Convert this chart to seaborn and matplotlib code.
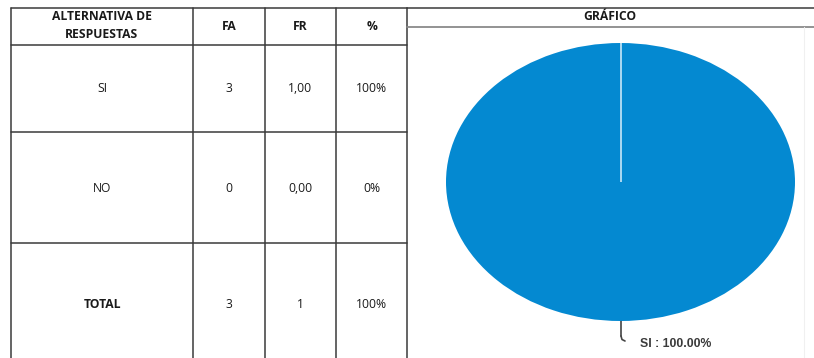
import matplotlib
matplotlib.use("Agg")
import matplotlib.pyplot as plt
import seaborn as sns

sns.set_theme(style="white")
plt.rcParams["font.family"] = ["Open Sans", "DejaVu Sans"]

# Table content
header_alt = "ALTERNATIVA DE\nRESPUESTAS"
col_headers = ["FA", "FR", "%"]
categories = ["SI", "NO"]
fa_values = [3, 0]
fr_labels = ["1,00", "0,00"]
pct_labels = ["100%", "0%"]
total_label = "TOTAL"
total_fa = 3
total_fr = "1"
total_pct = "100%"
chart_title = "GRÁFICO"
pie_label = "SI : 100.00%"

W, H = 814, 358
fig = plt.figure(figsize=(W / 100, H / 100), dpi=100)
fig.patch.set_facecolor("white")

# Overlay axes in pixel coordinates for the table grid and text
ov = fig.add_axes([0, 0, 1, 1])
ov.set_xlim(0, W)
ov.set_ylim(H, 0)
ov.axis("off")

line_kw = dict(color="#3a3a3a", lw=1.1)
col_x = [11, 193, 265, 336, 407]
row_y = [8, 45, 132, 243]

# horizontal lines of the table
for y in row_y:
    ov.plot([col_x[0], col_x[-1]], [y, y], **line_kw)
# vertical lines of the table
for x in col_x:
    ov.plot([x, x], [row_y[0], H], **line_kw)

# chart panel frame
ov.plot([407, W], [8, 8], **line_kw)
ov.plot([407, W], [26.5, 26.5], color="#8a8a8a", lw=1.3)
ov.plot([804, 804], [27, H], color="#f0f0f0", lw=0.8)

txt = dict(ha="center", va="center", fontsize=8.7, color="#1a1a1a")
ov.text(102, 25.5, header_alt, fontweight="bold", linespacing=1.45, **txt)
for cx, h in zip([229, 300, 372], col_headers):
    ov.text(cx, 27, h, fontweight="bold", **txt)

row_centers = [88, 188]
for yc, cat, fa, fr, pc in zip(row_centers, categories, fa_values, fr_labels, pct_labels):
    ov.text(102, yc, cat, **txt)
    ov.text(229, yc, str(fa), **txt)
    ov.text(300, yc, fr, **txt)
    ov.text(372, yc, pc, **txt)

yt = 304
ov.text(102, yt, total_label, fontweight="bold", **txt)
ov.text(229, yt, str(total_fa), **txt)
ov.text(300, yt, total_fr, **txt)
ov.text(372, yt, total_pct, **txt)

ov.text(610, 17, chart_title, fontweight="bold", **txt)

# Pie chart (stretched ellipse)
left, right, top, bottom = 446, 795, 43, 321
pax = fig.add_axes([left / W, 1 - bottom / H, (right - left) / W, (bottom - top) / H])
pie_color = "#0489D1"
start = 90
pax.pie(fa_values, colors=[pie_color, pie_color], startangle=start, counterclock=False,
        radius=1.0, wedgeprops=dict(linewidth=0))
# slice boundary at the start angle
pax.plot([0, 0], [0, 1], color="#b9e0f5", lw=1.3, solid_capstyle="butt")
pax.set_aspect("auto")
pax.set_xlim(-1, 1)
pax.set_ylim(-1, 1)
pax.axis("off")

# leader line and label
ov.plot([621, 621], [318, 336], color="#444444", lw=1.2)
ov.plot([621, 622, 625], [336, 339.5, 341], color="#444444", lw=1.2)
ov.text(640, 344, pie_label, ha="left", va="center", fontsize=8.8,
        fontweight="bold", color="#3b3b3b", family=["Liberation Sans", "DejaVu Sans"])

fig.savefig("out.png", dpi=100)
